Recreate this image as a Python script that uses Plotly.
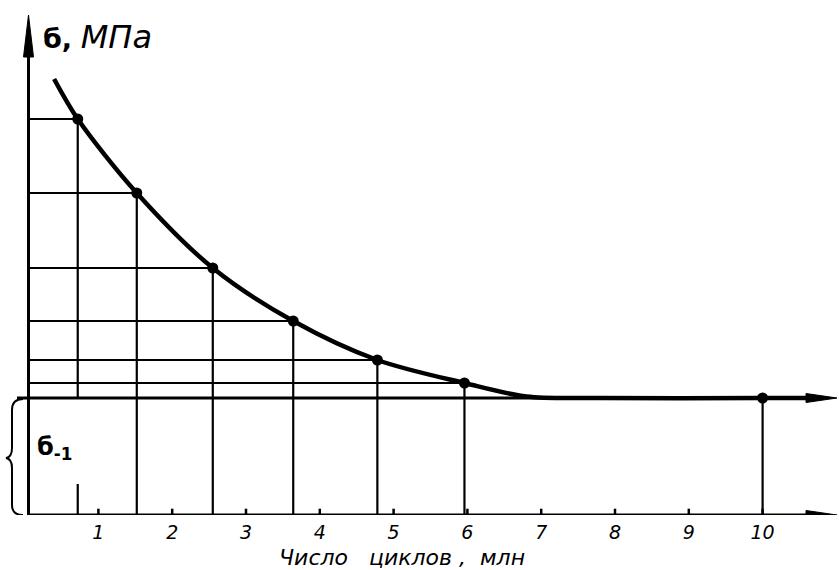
import plotly.graph_objects as go

# ---------------- data ----------------
tick_vals = [1, 2, 3, 4, 5, 6, 7, 8, 9, 10]
tick_text = ["1", "2", "3", "4", "5", "6", "7", "8", "9", "10"]

# test points: number of cycles (mln) and stress (relative units, no scale given)
point_n = [0.72, 1.52, 2.55, 3.64, 4.78, 5.96, 10.0]
point_s = [396, 322, 247, 194, 155, 132, 117]

# fatigue curve traced through the points
curve_n = [0.40, 0.72, 1.52, 2.55, 3.64, 4.78, 5.96, 6.8, 7.8, 10.0, 10.8]
curve_s = [436, 396, 322, 247, 194, 155, 132, 118.5, 117, 117, 117]

sigma_limit = 117          # endurance limit б-1
axis_top = 500             # top of the stress axis

# ---------------- geometry helpers ----------------
W, H = 839, 570
PLOT_H = 515
X0_PX, X_UNIT = 24.6, 73.8           # px position of n=0 and px per million


def px_x(px):
    return (px - X0_PX) / X_UNIT


def px_y(py):
    return PLOT_H - py


x_min, x_max = px_x(0), px_x(W)
axis_x = px_x(28.5)
tip_x = px_x(837)

fig = go.Figure()

# grid (projection) lines from each point to both axes
gx, gy = [], []
for i, (n, s) in enumerate(zip(point_n, point_s)):
    if s != sigma_limit:
        gx += [axis_x, n, None]
        gy += [s, s, None]
    if i == 0:
        gx += [n, n, None, n, n, None]
        gy += [s, sigma_limit, None, 31, 0, None]
    else:
        gx += [n, n, None]
        gy += [s, 0, None]
fig.add_trace(go.Scatter(x=gx, y=gy, mode="lines",
                         line=dict(color="black", width=2.2),
                         hoverinfo="skip", showlegend=False))

# endurance-limit line
fig.add_trace(go.Scatter(x=[px_x(17), px_x(815)], y=[sigma_limit, sigma_limit],
                         mode="lines", line=dict(color="black", width=3),
                         hoverinfo="skip", showlegend=False))

# axes
fig.add_trace(go.Scatter(x=[axis_x, px_x(815)], y=[0, 0], mode="lines",
                         line=dict(color="black", width=3),
                         hoverinfo="skip", showlegend=False))
fig.add_trace(go.Scatter(x=[axis_x, axis_x], y=[0, axis_top - 20], mode="lines",
                         line=dict(color="black", width=3),
                         hoverinfo="skip", showlegend=False))

# tick marks on x axis
fig.add_trace(go.Scatter(x=tick_vals, y=[0] * len(tick_vals), mode="markers",
                         marker=dict(symbol="line-ns", size=9,
                                     line=dict(color="black", width=2.5)),
                         hoverinfo="skip", showlegend=False))

# the curve
fig.add_trace(go.Scatter(x=curve_n, y=curve_s, mode="lines",
                         line=dict(color="black", width=4.5, shape="spline",
                                   smoothing=0.9),
                         hoverinfo="skip", showlegend=False))

# points
fig.add_trace(go.Scatter(x=point_n, y=point_s, mode="markers",
                         marker=dict(color="black", size=11),
                         hoverinfo="skip", showlegend=False))

# arrow heads
shapes = []
hw = 4.5
for yy in (0, sigma_limit):
    shapes.append(dict(type="path", xref="x", yref="y",
                       path=f"M {px_x(806)} {yy + hw} L {tip_x} {yy} L {px_x(806)} {yy - hw} Z",
                       fillcolor="black", line=dict(color="black", width=1)))
dx = 5 / X_UNIT
shapes.append(dict(type="path", xref="x", yref="y",
                   path=f"M {axis_x - dx} {axis_top - 42} L {axis_x} {axis_top} L {axis_x + dx} {axis_top - 42} Z",
                   fillcolor="black", line=dict(color="black", width=1)))
# brace for б-1
b = lambda px, py: f"{px_x(px)} {px_y(py)}"
shapes.append(dict(type="path", xref="x", yref="y",
                   path=(f"M {b(23, 399)} Q {b(12, 399)} {b(12, 410)} L {b(12, 448)} "
                         f"Q {b(12, 457)} {b(6, 458)} Q {b(12, 459)} {b(12, 468)} "
                         f"L {b(12, 505)} Q {b(12, 515)} {b(23, 515)}"),
                   line=dict(color="black", width=2)))

annotations = [
    dict(x=px_x(41), y=px_y(37), xref="x", yref="y", xanchor="left", yanchor="middle",
         text=("<b>б,</b> <span style='font-size:32px'><i>МПа</i></span>"),
         showarrow=False,
         font=dict(family="DejaVu Sans, sans-serif", size=27, color="black")),
    dict(x=px_x(35), y=px_y(448), xref="x", yref="y", xanchor="left", yanchor="middle",
         text="<b>б<sub>-1</sub></b>", showarrow=False,
         font=dict(family="DejaVu Sans, sans-serif", size=24, color="black")),
    dict(x=402 / W, y=(PLOT_H - 557) / PLOT_H, xref="paper", yref="paper",
         xanchor="center", yanchor="middle",
         text="<i>Число&nbsp;&nbsp;&nbsp;циклов&nbsp;,&nbsp;&nbsp;млн</i>", showarrow=False,
         font=dict(family="DejaVu Sans, sans-serif", size=22, color="black")),
]

fig.update_layout(
    width=W, height=H,
    margin=dict(l=0, r=0, t=0, b=H - PLOT_H),
    paper_bgcolor="white", plot_bgcolor="white",
    shapes=shapes, annotations=annotations,
    xaxis=dict(range=[x_min, x_max], tickvals=tick_vals, ticktext=tick_text,
               showgrid=False, zeroline=False, showline=False,
               ticks="outside", ticklen=0.5, tickcolor="rgba(0,0,0,0)",
               tickfont=dict(family="DejaVu Sans, sans-serif", size=19,
                             color="black", style="italic")),
    yaxis=dict(range=[0, PLOT_H], visible=False, showgrid=False, zeroline=False),
)

fig.write_html("out.html")
